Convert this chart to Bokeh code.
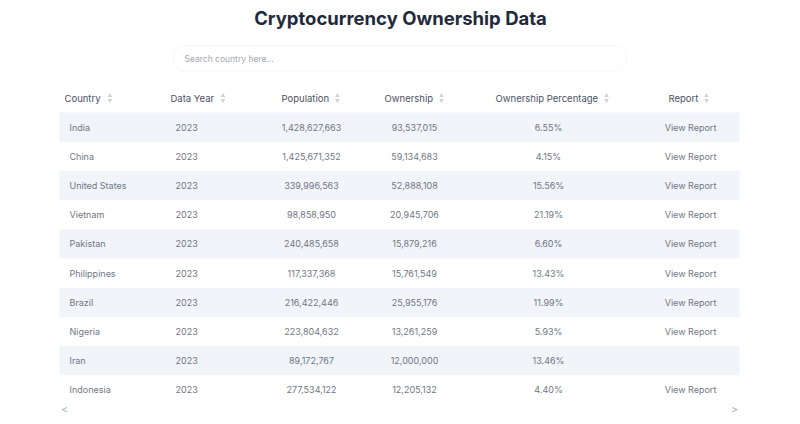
from bokeh.plotting import figure
from bokeh.models import Range1d, ColumnDataSource, BoxAnnotation
from bokeh.core.properties import value
from bokeh.embed import file_html
from bokeh.resources import INLINE

title = "Cryptocurrency Ownership Data"
placeholder = "Search country here..."
headers = ["Country", "Data Year", "Population", "Ownership", "Ownership Percentage", "Report"]
countries = ["India", "China", "United States", "Vietnam", "Pakistan", "Philippines",
             "Brazil", "Nigeria", "Iran", "Indonesia"]
years = [2023, 2023, 2023, 2023, 2023, 2023, 2023, 2023, 2023, 2023]
population = [1428627663, 1425671352, 339996563, 98858950, 240485658, 117337368,
              216422446, 223804632, 89172767, 277534122]
ownership = [93537015, 59134683, 52888108, 20945706, 15879216, 15761549,
             25955176, 13261259, 12000000, 12205132]
percentage = [6.55, 4.15, 15.56, 21.19, 6.60, 13.43, 11.99, 5.93, 13.46, 4.40]
report = ["View Report", "View Report", "View Report", "View Report", "View Report",
          "View Report", "View Report", "View Report", "", "View Report"]

FONT = "Inter"
W, H = 784, 416
p = figure(width=W, height=H, output_backend="svg", toolbar_location=None,
           x_range=Range1d(0, W), y_range=Range1d(H, 0),
           min_border=0, outline_line_color=None)
p.axis.visible = False
p.grid.visible = False
p.background_fill_color = "white"
p.border_fill_color = "white"

# title
p.text(x=[400], y=[17], text=[title], text_font=value(FONT), text_font_size="18.5px",
       text_font_style="bold", text_color="#1f2a3d", text_align="center",
       text_baseline="middle")

# search box
p.add_layout(BoxAnnotation(left=172.5, right=626, top=45.5, bottom=70.5,
                           fill_color="white", fill_alpha=1,
                           line_color="#e3e6ea", line_width=1, border_radius=12,
                           level="underlay"))
p.text(x=[184], y=[58.5], text=[placeholder], text_font=value(FONT),
       text_font_size="8.5px", text_color="#a3a8b0", text_align="left",
       text_baseline="middle")

# row layout
n = len(countries)
row_h = 29.2
top0 = 112
ys = [top0 + row_h * (i + 0.5) for i in range(n)]
band_y = [ys[i] for i in range(n) if i % 2 == 0]
p.rect(x=[399] * len(band_y), y=band_y, width=680, height=row_h,
       fill_color="#f1f4f9", line_color=None)

# header
hy = 97.5
hx = [64, 170, 281, 384, 495, 668]
icon_x = [109.5, 222.5, 337, 441, 606, 706]
p.text(x=hx, y=[hy] * 6, text=headers, text_font=value(FONT), text_font_size="9.5px",
       text_color="#4a5261", text_align="left", text_baseline="middle")
p.scatter(x=icon_x, y=[hy - 2.4] * 6, marker="triangle", size=4.5,
          fill_color="#cdd1d6", line_color=None)
p.scatter(x=icon_x, y=[hy + 2.4] * 6, marker="inverted_triangle", size=4.5,
          fill_color="#cdd1d6", line_color=None)

src = ColumnDataSource(dict(
    y=ys,
    country=countries,
    year=[str(v) for v in years],
    pop=[f"{v:,}" for v in population],
    own=[f"{v:,}" for v in ownership],
    pct=[f"{v:.2f}%" for v in percentage],
    rep=report,
))
cell = dict(source=src, y="y", text_font=value(FONT), text_font_size="9px",
            text_color="#707783", text_baseline="middle")
p.text(x=69, text="country", text_align="left", **cell)
p.text(x=175, text="year", text_align="left", **cell)
p.text(x=311, text="pop", text_align="center", **cell)
p.text(x=414, text="own", text_align="center", **cell)
p.text(x=548, text="pct", text_align="center", **cell)
p.text(x=690, text="rep", text_align="center", **cell)

# scroll arrows
p.text(x=[64, 734], y=[408.5, 408.5], text=["<", ">"], text_font=value(FONT),
       text_font_size="10px", text_color="#a3a8b0", text_align="center",
       text_baseline="middle")

open("out.html", "w").write(file_html(p, INLINE))
